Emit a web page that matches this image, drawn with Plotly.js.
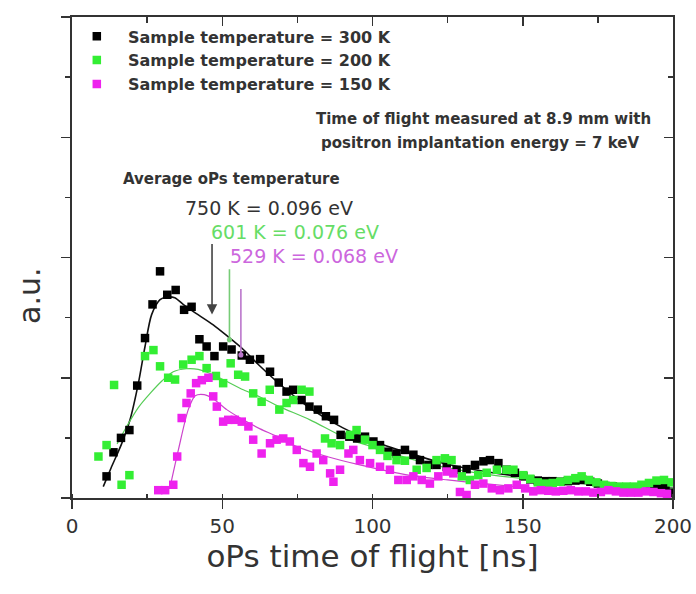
<!DOCTYPE html>
<html>
<head>
<meta charset="utf-8">
<script src="https://cdn.plot.ly/plotly-3.0.1.min.js"></script>
<style>html,body{margin:0;padding:0;background:#fff;}#chart{width:696px;height:594px;}</style>
</head>
<body>
<div id="chart"></div>
<script>
// ---- data ----
const seriesNames = ["Sample temperature = 300 K", "Sample temperature = 200 K", "Sample temperature = 150 K"];

const x300 = [11.5,13.8,16.3,19.1,21.7,24.3,26.8,29.3,31.7,34.5,37.3,39.8,42.4,44.8,47.4,50.3,53.1,56.5,59.2,62.6,65.9,68.8,71.4,73.6,76.4,79.0,81.8,84.5,87.2,89.4,92.3,94.9,97.5,100.3,102.5,105.3,108.0,110.8,113.6,115.8,118.6,121.3,124.7,128.0,131.3,134.1,136.9,139.1,141.9,144.6,147.4,150.2,152.5,155.0,157.5,160.0,162.5,165.0,167.5,170.0,172.5,175.0,177.5,180.0,182.5,185.0,187.5,190.0,192.5,195.0,197.5,199.5];
const y300 = [0.36,0.76,1.00,1.13,1.87,2.66,3.22,3.77,3.38,3.46,3.13,3.18,2.64,2.52,2.36,2.52,2.47,2.37,2.30,2.31,2.10,1.92,1.77,1.80,1.63,1.52,1.47,1.36,1.30,1.05,1.02,0.99,1.02,0.94,0.88,0.77,0.74,0.80,0.72,0.63,0.55,0.55,0.52,0.47,0.48,0.55,0.61,0.63,0.58,0.47,0.42,0.36,0.31,0.29,0.28,0.28,0.27,0.28,0.29,0.30,0.27,0.24,0.20,0.19,0.17,0.17,0.17,0.20,0.22,0.20,0.17,0.08];

const x200 = [8.8,11.5,14.0,16.5,19.1,24.3,27.1,29.3,32.0,34.3,37.0,39.8,42.4,44.8,47.9,50.3,52.8,55.3,57.6,60.3,63.1,65.8,69.0,71.4,73.6,76.4,79.0,84.2,86.4,89.2,92.5,94.7,97.5,100.0,102.5,105.0,108.0,110.8,114.7,118.0,121.3,124.1,126.3,129.7,132.4,135.2,138.0,141.4,144.6,146.9,150.2,152.5,155.0,157.5,160.0,162.5,165.0,167.5,169.6,172.0,174.5,177.0,179.5,182.0,184.5,187.0,189.5,192.0,194.5,197.0,199.5];
const y200 = [0.69,0.88,1.88,0.22,0.38,2.36,2.46,2.19,2.00,1.97,2.22,2.30,2.36,2.16,2.03,1.91,2.24,2.05,2.02,1.74,1.60,1.80,1.47,1.58,1.63,1.80,1.77,0.99,0.91,0.88,1.05,1.13,0.97,0.88,0.80,0.70,0.63,0.62,0.47,0.50,0.63,0.66,0.63,0.36,0.30,0.38,0.42,0.47,0.47,0.47,0.38,0.32,0.26,0.24,0.25,0.27,0.30,0.33,0.36,0.30,0.26,0.22,0.20,0.19,0.19,0.19,0.22,0.25,0.29,0.30,0.26];

const x150 = [28.7,31.0,33.7,35.0,36.5,38.1,39.5,41.3,43.2,45.4,47.0,48.2,50.3,52.0,54.2,56.5,58.7,60.3,63.1,65.9,68.1,70.3,72.5,74.8,77.0,79.2,81.4,83.6,85.9,87.0,89.2,92.0,93.6,95.8,99.2,102.5,105.8,108.6,111.4,113.6,116.4,119.1,121.9,124.7,126.9,129.1,131.3,134.1,136.9,139.7,142.4,145.2,148.0,150.8,153.5,156.0,158.5,161.0,163.5,166.0,168.5,171.0,173.5,176.0,178.5,181.0,183.5,186.0,188.5,191.0,193.5,196.0,198.0];
const y150 = [0.13,0.13,0.22,0.69,1.33,1.58,1.74,1.91,1.96,2.00,1.69,1.52,1.27,1.30,1.30,1.27,1.19,0.97,0.74,0.91,0.97,0.99,0.94,0.80,0.58,0.52,0.74,0.63,0.41,0.27,0.47,0.74,0.80,0.63,0.58,0.52,0.47,0.30,0.30,0.36,0.30,0.24,0.36,0.44,0.41,0.10,0.05,0.22,0.24,0.16,0.13,0.16,0.22,0.16,0.11,0.13,0.12,0.11,0.12,0.13,0.11,0.11,0.09,0.10,0.13,0.11,0.09,0.09,0.09,0.11,0.10,0.08,0.07];

// fitted curves
const fit300x = [10.4,13.0,16.5,19.3,22.1,24.3,26.5,29.3,31.4,34.2,37.0,40.4,47.0,52.0,57.0,62.0,69.0,79.0,90.0,100.0,112.0,125.0,140.0,160.0,180.0,200.0];
const fit300y = [0.19,0.50,0.90,1.30,1.91,2.52,3.05,3.30,3.34,3.33,3.22,3.10,2.88,2.68,2.47,2.22,1.90,1.50,1.17,0.95,0.75,0.56,0.42,0.30,0.22,0.16];
const fit200x = [15.0,18.2,22.0,26.0,30.0,33.7,38.0,42.0,47.0,57.0,62.6,69.0,79.2,91.0,100.0,112.0,125.0,140.0,160.0,180.0,200.0];
const fit200y = [0.90,1.19,1.50,1.74,1.95,2.10,2.15,2.14,2.05,1.80,1.68,1.52,1.30,1.00,0.85,0.66,0.50,0.38,0.28,0.20,0.15];
const fit150x = [32.5,35.4,38.7,41.0,44.0,47.0,51.5,57.0,62.6,68.0,73.6,84.8,95.8,112.0,125.0,150.0,175.0,200.0];
const fit150y = [0.15,0.80,1.47,1.70,1.72,1.65,1.47,1.30,1.15,1.03,0.88,0.69,0.55,0.38,0.30,0.18,0.12,0.08];

// arrows marking the average oPs temperature (time positions and arrow extent)
const arrowT = [46.6, 52.4, 56.2];
const arrowTop = [4.25, 3.83, 3.50];
const arrowTip = [3.05, 2.63, 2.38];
const tempLabels = ["750 K = 0.096 eV", "601 K = 0.076 eV", "529 K = 0.068 eV"];

const xTickVals = [0, 50, 100, 150, 200];
const xTickText = ["0", "50", "100", "150", "200"];

// ---- styles ----
const markerColors = ["#000000", "#33ee33", "#ee22ee"];
const fitColors = ["#111111", "#55cc55", "#cc44cc"];
const labelColors = ["#333333", "#66dd66", "#cc66dd"];
const arrowColors = ["#444444", "#77cc77", "#bb77cc"];
const FONT = "DejaVu Sans, Arial, sans-serif";

const xs = [x300, x200, x150];
const ys = [y300, y200, y150];
const fx = [fit300x, fit200x, fit150x];
const fy = [fit300y, fit200y, fit150y];

const traces = [];
for (let i = 0; i < 3; i++) {
  traces.push({
    x: fx[i], y: fy[i], mode: "lines", type: "scatter",
    line: {color: fitColors[i], width: i === 0 ? 1.6 : 1.2, shape: "spline", smoothing: 0.8},
    showlegend: false, hoverinfo: "skip"
  });
}
for (let i = 0; i < 3; i++) {
  traces.push({
    x: xs[i], y: ys[i], mode: "markers", type: "scatter",
    name: "\u00a0\u00a0" + seriesNames[i],
    marker: {symbol: "square", size: 8.5, color: markerColors[i]}
  });
}
// mirror axes (top / right) with inward ticks
traces.push({x: [], y: [], xaxis: "x2", yaxis: "y2", showlegend: false, hoverinfo: "skip", type: "scatter"});

const annotations = [
  {text: "Time of flight measured at 8.9 mm with", x: 136.8, y: 6.31, xanchor: "center"},
  {text: "positron implantation energy = 7 keV", x: 135.8, y: 5.91, xanchor: "center"},
  {text: "Average oPs temperature", x: 16.4, y: 5.30, xanchor: "left"}
].map(a => Object.assign({xref: "x", yref: "y", yanchor: "middle", showarrow: false,
  font: {family: FONT, size: 15, color: "#333333", weight: "bold"}}, a));

const labelX = [37.1, 45.7, 52.0];
const labelY = [4.82, 4.43, 4.03];
for (let i = 0; i < 3; i++) {
  annotations.push({text: tempLabels[i], x: labelX[i], y: labelY[i], xref: "x", yref: "y",
    xanchor: "left", yanchor: "middle", showarrow: false,
    font: {family: FONT, size: 19, color: labelColors[i]}});
  annotations.push({text: "", x: arrowT[i], y: arrowTip[i], ax: arrowT[i], ay: arrowTop[i],
    xref: "x", yref: "y", axref: "x", ayref: "y", showarrow: true,
    arrowhead: i === 0 ? 2 : 6, arrowsize: i === 0 ? 1.3 : 0.8, arrowwidth: 1.6,
    arrowcolor: arrowColors[i]});
}
// y-axis title (sits below the plot centre in the reference)
annotations.push({text: "a.u.", xref: "paper", yref: "paper", x: -0.07, y: 0.42,
  xanchor: "center", yanchor: "middle", textangle: -90, showarrow: false,
  font: {family: FONT, size: 30, color: "#333333"}});

const axisLine = {showline: true, linecolor: "#333333", linewidth: 2, showgrid: false, zeroline: false};

const layout = {
  width: 696, height: 594,
  margin: {l: 72, r: 23, t: 17, b: 96},
  paper_bgcolor: "#ffffff", plot_bgcolor: "#ffffff",
  font: {family: FONT, color: "#333333"},
  showlegend: true,
  legend: {x: 0.008, y: 0.995, xanchor: "left", yanchor: "top", bgcolor: "rgba(0,0,0,0)",
    font: {family: FONT, size: 16, color: "#333333", weight: "bold"}, itemclick: false},
  xaxis: Object.assign({}, axisLine, {
    range: [0, 200], tickmode: "array", tickvals: xTickVals, ticktext: xTickText,
    ticks: "outside", ticklen: 9, tickwidth: 1.5, tickcolor: "#333333",
    minor: {tickmode: "linear", tick0: 0, dtick: 25, ticks: "inside", ticklen: 4, tickwidth: 1.5, tickcolor: "#333333"},
    tickfont: {family: FONT, size: 20, color: "#333333"},
    title: {text: "oPs time of flight [ns]", font: {family: FONT, size: 31, color: "#333333"}, standoff: 4}
  }),
  yaxis: Object.assign({}, axisLine, {
    range: [0, 8], tick0: 0, dtick: 2, showticklabels: false,
    ticks: "outside", ticklen: 9, tickwidth: 1.5, tickcolor: "#333333",
    minor: {tick0: 0, dtick: 1, ticks: "outside", ticklen: 5, tickwidth: 1.5, tickcolor: "#333333"}
  }),
  xaxis2: Object.assign({}, axisLine, {
    overlaying: "x", side: "top", anchor: "y2", range: [0, 200], tick0: 0, dtick: 50,
    showticklabels: false, ticks: "inside", ticklen: 9, tickwidth: 1.5, tickcolor: "#333333",
    minor: {tick0: 0, dtick: 25, ticks: "inside", ticklen: 6, tickwidth: 1.5, tickcolor: "#333333"}
  }),
  yaxis2: Object.assign({}, axisLine, {
    overlaying: "y", side: "right", anchor: "x2", range: [0, 8], tick0: 0, dtick: 2,
    showticklabels: false, ticks: "inside", ticklen: 9, tickwidth: 1.5, tickcolor: "#333333",
    minor: {tick0: 0, dtick: 1, ticks: "inside", ticklen: 5, tickwidth: 1.5, tickcolor: "#333333"}
  }),
  annotations: annotations
};

Plotly.newPlot("chart", traces, layout, {displayModeBar: false, staticPlot: true});
</script>
</body>
</html>
